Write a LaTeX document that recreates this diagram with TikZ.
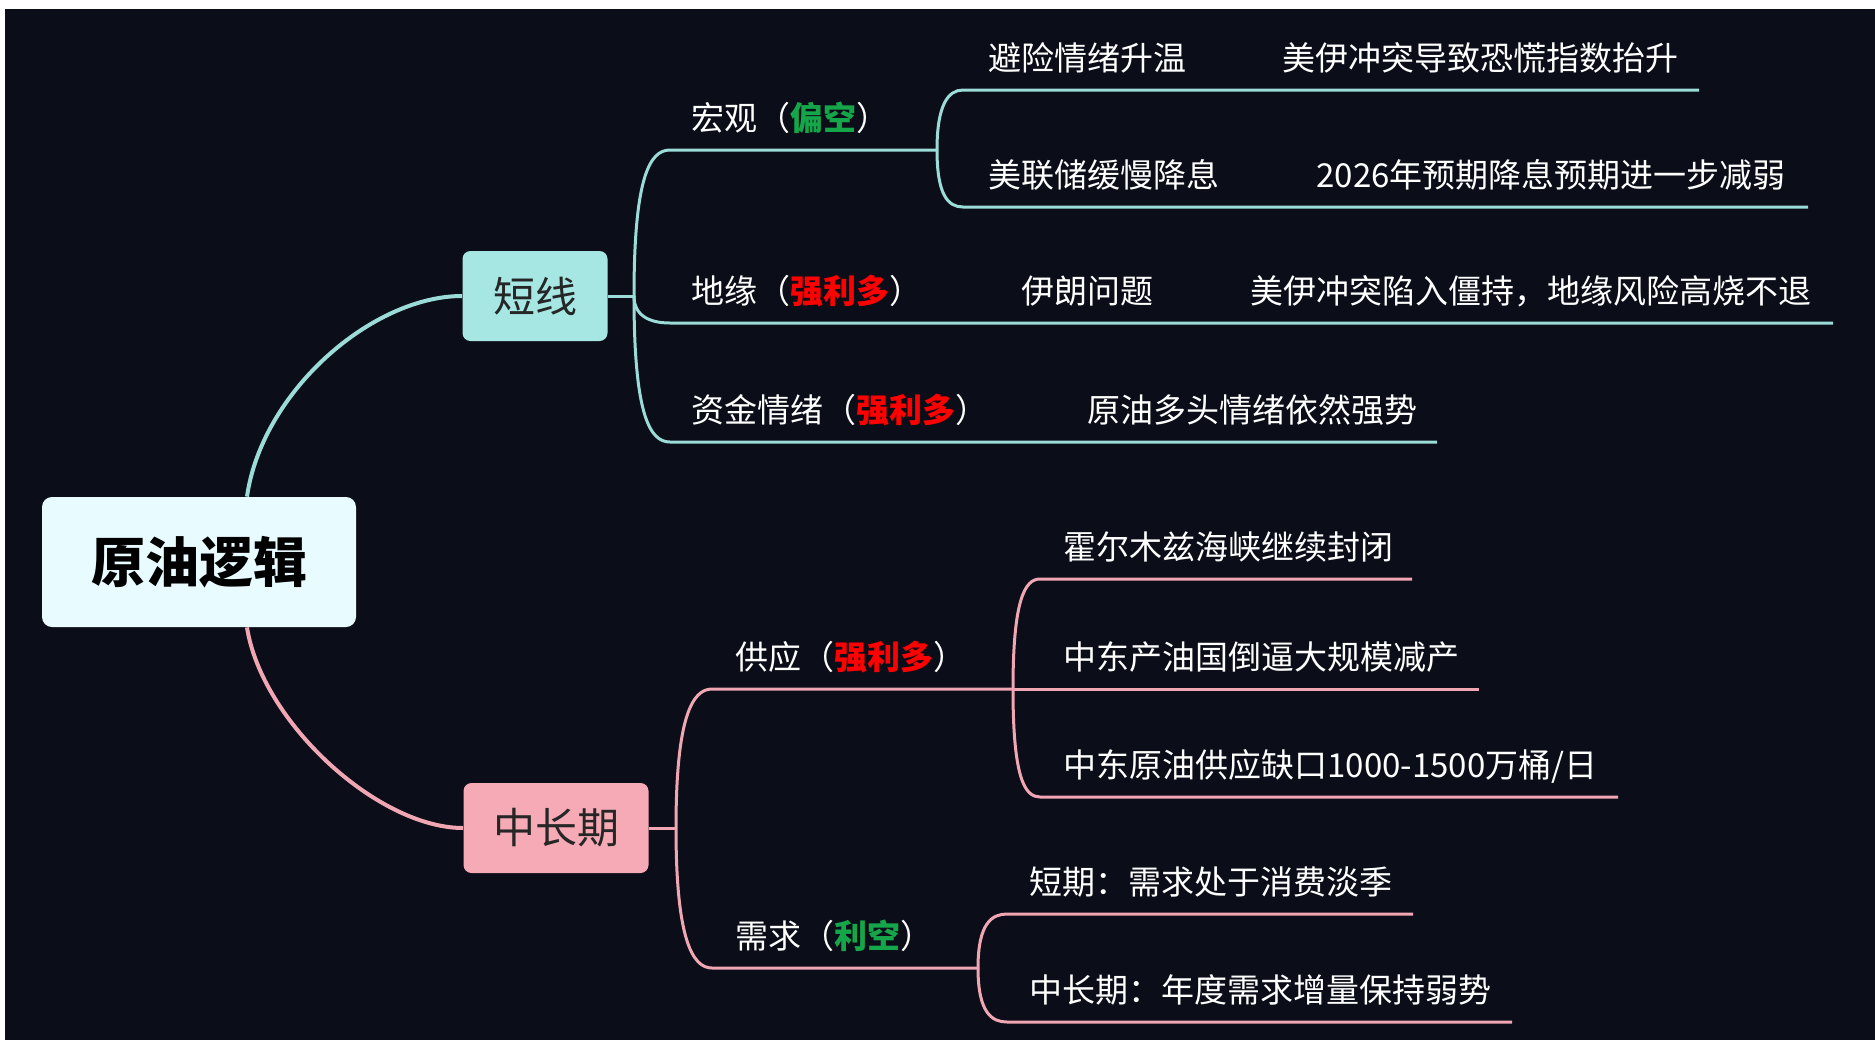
\documentclass[tikz,border=0pt]{standalone}
\usepackage{fontspec}
\setmainfont{Noto Sans CJK SC}
\usepackage{tikz}
\usetikzlibrary{positioning}
\definecolor{bgdark}{HTML}{0B0E18}
\definecolor{tealline}{HTML}{9BDCD8}
\definecolor{tealbox}{HTML}{A6E7E3}
\definecolor{pinkline}{HTML}{F0A7B3}
\definecolor{pinkbox}{HTML}{F5AAB6}
\definecolor{rootfill}{HTML}{E8FBFF}
\definecolor{bullred}{HTML}{FF0000}
\definecolor{beargreen}{HTML}{16A64A}
\newcommand{\bull}[1]{\textcolor{bullred}{\bfseries #1}}
\newcommand{\bear}[1]{\textcolor{beargreen}{\bfseries #1}}
\tikzset{
    node style root/.style={rectangle,rounded corners=5pt,fill=rootfill,minimum width=157pt,minimum height=65pt,font=\fontsize{27}{30}\selectfont\bfseries,text=black},
    node style cat/.style={rectangle,rounded corners=4pt,minimum height=45pt,font=\fontsize{21}{24}\selectfont,text=black!85},
    node style txt/.style={anchor=base west,inner sep=0pt,text=white,font=\fontsize{16.5}{19}\selectfont},
    line style teal/.style={draw=tealline,line width=1.5pt},
    line style pink/.style={draw=pinkline,line width=1.5pt},
}

\begin{document}
\begin{tikzpicture}[x=0.5pt,y=-0.5pt]
\useasboundingbox (0,0) rectangle (1875,1040);
\fill [white] (0,0) rectangle (1875,1040);
\fill [bgdark] (5,9) rectangle (1875,1040);

\node [node style root] (root) at (199,562) {原油逻辑};
\node [node style cat,fill=tealbox,minimum width=72.5pt] (sx) at (535,296) {短线};
\node [node style cat,fill=pinkbox,minimum width=92.5pt] (zc) at (556,828) {中长期};

% root to the two groups
\draw [line style teal,line width=2pt] ([xshift=24pt]root.north) .. controls +(15,-105) and +(-90,0) .. (sx.west);
\draw [line style pink,line width=2pt] ([xshift=24pt]root.south) .. controls +(15,95) and +(-85,0) .. (zc.west);

%short term
\coordinate (sx-j) at (634,296);
\draw [line style teal] (sx.east) -- (sx-j);

\coordinate (hg-s) at (670,150);
\coordinate (hg-e) at (937,150);
\node [node style txt] (hg) at (691,130) {宏观（\bear{偏空}）};
\draw [line style teal] (sx-j) .. controls +(0,-120) and +(-20,0) .. (hg-s) -- (hg-e);

\coordinate (bx-s) at (963,90);
\coordinate (bx-e) at (1699,90);
\node [node style txt] (bx) at (988,70) {避险情绪升温};
\node [node style txt] (bx-d) at (1282,70) {美伊冲突导致恐慌指数抬升};
\draw [line style teal] (hg-e) .. controls +(0,-45) and +(-15,0) .. (bx-s) -- (bx-e);

\coordinate (fed-s) at (963,207);
\coordinate (fed-e) at (1808,207);
\node [node style txt] (fed) at (988,187) {美联储缓慢降息};
\node [node style txt] (fed-d) at (1316,187) {2026年预期降息预期进一步减弱};
\draw [line style teal] (hg-e) .. controls +(0,45) and +(-15,0) .. (fed-s) -- (fed-e);

\coordinate (dy-s) at (670,323);
\coordinate (dy-e) at (1833,323);
\node [node style txt] (dy) at (691,303) {地缘（\bull{强利多}）};
\node [node style txt] (yl) at (1021,303) {伊朗问题};
\node [node style txt] (yl-d) at (1250,303) {美伊冲突陷入僵持，地缘风险高烧不退};
\draw [line style teal] (sx-j) .. controls +(0,20) and +(-20,0) .. (dy-s) -- (dy-e);

\coordinate (zj-s) at (670,442);
\coordinate (zj-e) at (1437,442);
\node [node style txt] (zj) at (691,422) {资金情绪（\bull{强利多}）};
\node [node style txt] (zj-d) at (1087,422) {原油多头情绪依然强势};
\draw [line style teal] (sx-j) .. controls +(0,120) and +(-20,0) .. (zj-s) -- (zj-e);

%medium and long term
\coordinate (zc-j) at (676,828);
\draw [line style pink] (zc.east) -- (zc-j);

\coordinate (gy-s) at (712,689);
\coordinate (gy-e) at (1013,689);
\node [node style txt] (gy) at (735,669) {供应（\bull{强利多}）};
\draw [line style pink] (zc-j) .. controls +(0,-110) and +(-20,0) .. (gy-s) -- (gy-e);

\coordinate (hm-s) at (1040,579);
\coordinate (hm-e) at (1412,579);
\node [node style txt] (hm) at (1063,559) {霍尔木兹海峡继续封闭};
\draw [line style pink] (gy-e) .. controls +(0,-90) and +(-15,0) .. (hm-s) -- (hm-e);

\coordinate (jc-e) at (1479,689);
\node [node style txt] (jc) at (1063,669) {中东产油国倒逼大规模减产};
\draw [line style pink] (gy-e) -- (jc-e);

\coordinate (qk-s) at (1040,797);
\coordinate (qk-e) at (1618,797);
\node [node style txt] (qk) at (1063,777) {中东原油供应缺口1000-1500万桶/日};
\draw [line style pink] (gy-e) .. controls +(0,90) and +(-15,0) .. (qk-s) -- (qk-e);

\coordinate (xq-s) at (712,968);
\coordinate (xq-e) at (978,968);
\node [node style txt] (xq) at (735,948) {需求（\bear{利空}）};
\draw [line style pink] (zc-j) .. controls +(0,110) and +(-20,0) .. (xq-s) -- (xq-e);

\coordinate (dq-s) at (1007,914);
\coordinate (dq-e) at (1413,914);
\node [node style txt] (dq) at (1029,894) {短期：需求处于消费淡季};
\draw [line style pink] (xq-e) .. controls +(0,-45) and +(-15,0) .. (dq-s) -- (dq-e);

\coordinate (cq-s) at (1007,1022);
\coordinate (cq-e) at (1512,1022);
\node [node style txt] (cq) at (1029,1002) {中长期：年度需求增量保持弱势};
\draw [line style pink] (xq-e) .. controls +(0,45) and +(-15,0) .. (cq-s) -- (cq-e);

\end{tikzpicture}
\end{document}
